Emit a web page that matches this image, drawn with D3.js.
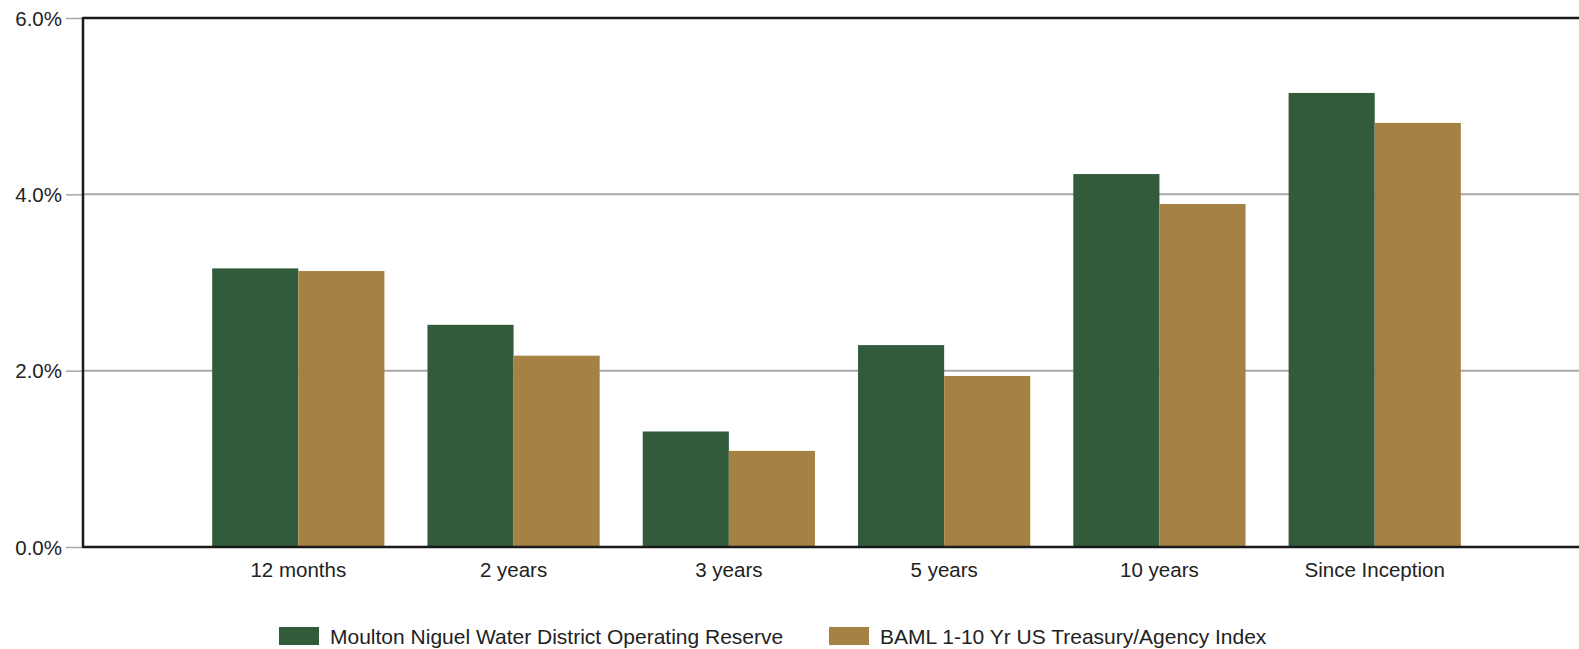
<!DOCTYPE html>
<html>
<head>
<meta charset="utf-8">
<script src="https://cdn.jsdelivr.net/npm/d3@7"></script>
<style>
  html, body { margin: 0; padding: 0; background: #fff; }
  svg { display: block; }
  text { font-family: "Liberation Sans", Arial, sans-serif; fill: #222; }
</style>
</head>
<body>
<svg id="chart" width="1579" height="649"></svg>
<script>
// Annualized returns by period
const categories = ["12 months", "2 years", "3 years", "5 years", "10 years", "Since Inception"];
const seriesNames = ["Moulton Niguel Water District Operating Reserve", "BAML 1-10 Yr US Treasury/Agency Index"];
const reserveReturns = [3.16, 2.52, 1.31, 2.29, 4.23, 5.15];
const indexReturns = [3.13, 2.17, 1.09, 1.94, 3.89, 4.81];
const yTicks = [0, 2, 4, 6];
const colors = ["#325b3c", "#a58244"];

const svg = d3.select("#chart");
const plotLeft = 83, plotTop = 18, plotBottom = 547;

const x0 = d3.scaleBand()
  .domain(categories)
  .range([plotLeft, 1590])
  .paddingInner(0.2)
  .paddingOuter(0.6);

const x1 = d3.scaleBand()
  .domain([0, 1])
  .range([0, x0.bandwidth()]);

const y = d3.scaleLinear().domain([0, 6]).range([plotBottom, plotTop]);

// Horizontal gridlines
svg.append("g")
  .selectAll("line")
  .data(yTicks.filter(d => d > 0 && d < 6))
  .join("line")
  .attr("x1", plotLeft).attr("x2", 1579)
  .attr("y1", d => y(d)).attr("y2", d => y(d))
  .attr("stroke", "#a8a8a8").attr("stroke-width", 2);

// Bars
const rows = categories.map((c, i) => ({ cat: c, vals: [reserveReturns[i], indexReturns[i]] }));
svg.append("g")
  .selectAll("g")
  .data(rows)
  .join("g")
  .attr("transform", d => `translate(${x0(d.cat)},0)`)
  .selectAll("rect")
  .data(d => d.vals.map((v, k) => ({ k, v })))
  .join("rect")
  .attr("x", d => x1(d.k))
  .attr("width", x1.bandwidth())
  .attr("y", d => y(d.v))
  .attr("height", d => y(0) - y(d.v))
  .attr("fill", d => colors[d.k]);

// Y axis
const yAxis = d3.axisLeft(y)
  .tickValues(yTicks)
  .tickFormat(d => d3.format(".1f")(d) + "%")
  .tickSize(17)
  .tickPadding(4);
const gy = svg.append("g").attr("transform", `translate(${plotLeft},0)`).call(yAxis);
gy.select(".domain").remove();
gy.selectAll(".tick line").attr("stroke", "#a8a8a8").attr("stroke-width", 1.5);
gy.selectAll(".tick text").attr("font-size", 20.5).attr("dy", "0.35em").style("fill", "#222");

// X axis labels
const xAxis = d3.axisBottom(x0).tickSize(0).tickPadding(15);
const gx = svg.append("g").attr("transform", `translate(0,${plotBottom})`).call(xAxis);
gx.select(".domain").remove();
gx.selectAll(".tick text").attr("font-size", 20.5).style("fill", "#222");

// Frame lines: top, left, bottom
svg.append("line").attr("x1", plotLeft).attr("x2", 1579).attr("y1", plotTop).attr("y2", plotTop)
  .attr("stroke", "#1a1a1a").attr("stroke-width", 2.5);
svg.append("line").attr("x1", plotLeft).attr("x2", plotLeft).attr("y1", plotTop - 1).attr("y2", plotBottom + 1)
  .attr("stroke", "#1a1a1a").attr("stroke-width", 2.5);
svg.append("line").attr("x1", plotLeft).attr("x2", 1579).attr("y1", plotBottom).attr("y2", plotBottom)
  .attr("stroke", "#1a1a1a").attr("stroke-width", 2.5);

// Legend
const legendX = [279, 829];
const lg = svg.append("g")
  .selectAll("g")
  .data(seriesNames)
  .join("g")
  .attr("transform", (d, i) => `translate(${legendX[i]},627)`);
lg.append("rect").attr("width", 40).attr("height", 18).attr("fill", (d, i) => colors[i]);
lg.append("text").attr("x", 51).attr("y", 16.5).attr("font-size", 21).text(d => d);
</script>
</body>
</html>
